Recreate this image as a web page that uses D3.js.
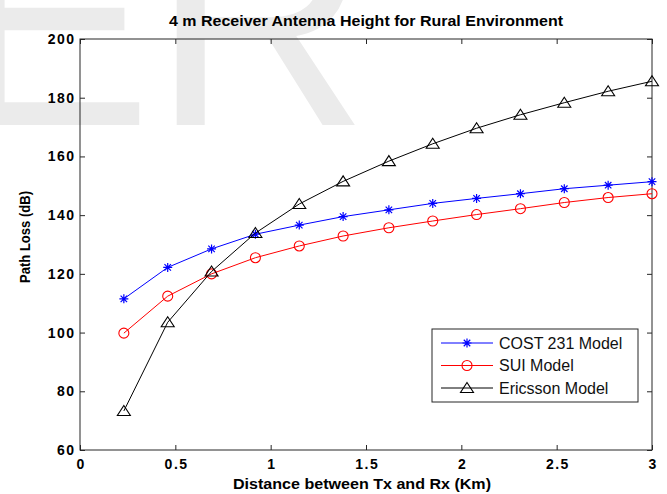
<!DOCTYPE html>
<html><head><meta charset="utf-8">
<script src="https://cdn.jsdelivr.net/npm/d3@7/dist/d3.min.js"></script>
<style>body{margin:0;background:#fff} svg{display:block}</style>
</head><body>
<svg id="chart" width="667" height="494"></svg>
<script>
// ---- data ----
const distanceKm = [0.23, 0.46, 0.69, 0.92, 1.15, 1.38, 1.62, 1.85, 2.08, 2.31, 2.54, 2.77, 3.0];
const cost231 = [111.5, 122.2, 128.5, 133.5, 136.6, 139.5, 141.8, 144.0, 145.7, 147.3, 149.0, 150.2, 151.4];
const sui = [99.8, 112.4, 120.0, 125.5, 129.5, 132.9, 135.7, 138.0, 140.2, 142.2, 144.3, 146.0, 147.3];
const ericsson = [73.3, 103.5, 120.8, 133.9, 143.8, 151.5, 158.4, 164.3, 169.6, 174.2, 178.3, 182.2, 185.6];
const seriesNames = ["COST 231 Model", "SUI Model", "Ericsson Model"];
const xTicks = [0, 0.5, 1, 1.5, 2, 2.5, 3];
const yTicks = [60, 80, 100, 120, 140, 160, 180, 200];
const titleText = "4 m Receiver Antenna Height for Rural Environment";
const xLabel = "Distance between Tx and Rx  (Km)";
const yLabel = "Path  Loss  (dB)";
const watermark = "ER";

// ---- layout ----
const L = 80, R = 652, T = 39, B = 450;
const svg = d3.select("#chart");
const x = d3.scaleLinear().domain([0, 3]).range([L, R]);
const y = d3.scaleLinear().domain([60, 200]).range([B, T]);
const font = "'Liberation Sans', Arial, sans-serif";

// watermark (light grey, behind the chart)
svg.append("text").attr("x", -48).attr("y", 125)
  .attr("font-family", font).attr("font-size", 300).attr("fill", "#ebebeb")
  .text(watermark);

const series = [
  {name: seriesNames[0], values: cost231, color: "#0000ff", marker: "star"},
  {name: seriesNames[1], values: sui, color: "#ff0000", marker: "circle"},
  {name: seriesNames[2], values: ericsson, color: "#000000", marker: "triangle"}
];

function drawMarker(g, type, color) {
  if (type === "star") {
    const r = 4.5, d = r * 0.72;
    g.append("path").attr("d", `M${-r},0H${r}M0,${-r}V${r}M${-d},${-d}L${d},${d}M${-d},${d}L${d},${-d}`)
      .attr("stroke", color).attr("stroke-width", 1.2).attr("fill", "none");
  } else if (type === "circle") {
    g.append("circle").attr("r", 5).attr("stroke", color).attr("stroke-width", 1.1).attr("fill", "none");
  } else {
    g.append("path").attr("d", "M0,-5.5L6.5,4.5L-6.5,4.5Z")
      .attr("stroke", color).attr("stroke-width", 1.1).attr("fill", "none");
  }
}

// axes box
const axisColor = "#262626";
const axB = svg.append("g").attr("transform", `translate(0,${B})`)
  .call(d3.axisBottom(x).tickValues(xTicks).tickSize(-5).tickPadding(9).tickFormat(d3.format("~g")));
const axT = svg.append("g").attr("transform", `translate(0,${T})`)
  .call(d3.axisTop(x).tickValues(xTicks).tickSize(-5).tickFormat(""));
const axL = svg.append("g").attr("transform", `translate(${L},0)`)
  .call(d3.axisLeft(y).tickValues(yTicks).tickSize(-5).tickPadding(4.5));
const axR = svg.append("g").attr("transform", `translate(${R},0)`)
  .call(d3.axisRight(y).tickValues(yTicks).tickSize(-5).tickFormat(""));
[axB, axT, axL, axR].forEach(a => {
  a.select(".domain").remove();
  a.selectAll("line").attr("stroke", axisColor);
  a.selectAll("text").attr("font-family", font).attr("font-weight", "bold")
    .attr("font-size", 14).attr("fill", "#000").attr("letter-spacing", 1.5);
});
axB.selectAll("text").attr("dy", "0.71em").attr("dx", 0.75);
svg.append("rect").attr("x", L).attr("y", T).attr("width", R - L).attr("height", B - T)
  .attr("fill", "none").attr("stroke", axisColor).attr("stroke-width", 1);

// lines and markers
const line = d3.line().x((d, i) => x(distanceKm[i])).y(d => y(d));
series.forEach(s => {
  svg.append("path").datum(s.values).attr("d", line)
    .attr("fill", "none").attr("stroke", s.color).attr("stroke-width", 1);
  s.values.forEach((v, i) => {
    const g = svg.append("g").attr("transform", `translate(${x(distanceKm[i])},${y(v)})`);
    drawMarker(g, s.marker, s.color);
  });
});

// title & labels
svg.append("text").attr("x", 366).attr("y", 26).attr("text-anchor", "middle")
  .attr("font-family", font).attr("font-weight", "bold").attr("font-size", 15)
  .attr("textLength", 394).attr("lengthAdjust", "spacingAndGlyphs").text(titleText);
svg.append("text").attr("x", 362).attr("y", 489).attr("text-anchor", "middle")
  .attr("font-family", font).attr("font-weight", "bold").attr("font-size", 15)
  .attr("textLength", 258).attr("lengthAdjust", "spacingAndGlyphs").text(xLabel);
svg.append("text").attr("transform", "translate(30,237) rotate(-90)").attr("text-anchor", "middle")
  .attr("font-family", font).attr("font-weight", "bold").attr("font-size", 14)
  .attr("textLength", 92).attr("lengthAdjust", "spacingAndGlyphs").text(yLabel);

// legend
const lg = svg.append("g");
lg.append("rect").attr("x", 432).attr("y", 329).attr("width", 206).attr("height", 73)
  .attr("fill", "#fff").attr("stroke", axisColor).attr("stroke-width", 1);
series.forEach((s, i) => {
  const yy = 343 + i * 22.5;
  lg.append("line").attr("x1", 441).attr("x2", 493).attr("y1", yy).attr("y2", yy)
    .attr("stroke", s.color).attr("stroke-width", 1);
  drawMarker(lg.append("g").attr("transform", `translate(467,${yy})`), s.marker, s.color);
  lg.append("text").attr("x", 499).attr("y", yy).attr("dy", "0.35em")
    .attr("font-family", font).attr("font-size", 16).attr("fill", "#111").text(s.name);
});
</script>
</body></html>
